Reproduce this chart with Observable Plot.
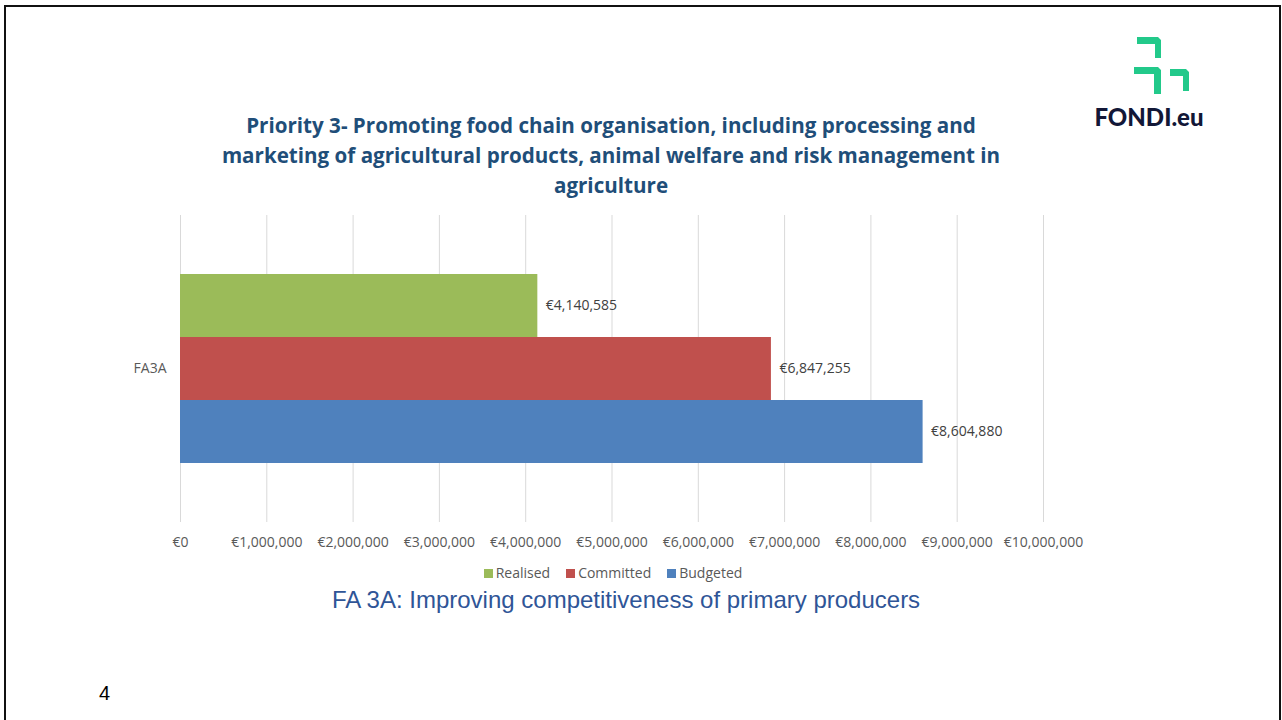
<!DOCTYPE html>
<html>
<head>
<meta charset="utf-8">
<script src="https://cdn.jsdelivr.net/npm/d3@7"></script>
<script src="https://cdn.jsdelivr.net/npm/@observablehq/plot@0.6"></script>
<style>
  html, body { margin: 0; padding: 0; background: #fff; overflow: hidden; }
  #page { position: relative; width: 1282px; height: 720px; }
  #frame { position: absolute; left: 4px; top: 5px; width: 1277px; height: 760px; border: 2px solid #111; box-sizing: border-box; }
  #title { position: absolute; left: 161px; width: 900px; top: 110px; text-align: center; font-family: "Open Sans", sans-serif; font-weight: bold; font-size: 20.6px; line-height: 30px; color: #1F4E79; }
  #chart { position: absolute; left: 0; top: 205px; }
  #legend { position: absolute; left: 0; width: 1226px; top: 563px; text-align: center; font-family: "Open Sans", sans-serif; font-size: 14px; color: #595959; }
  #legend span.item { margin: 0 8px; }
  #legend span.sw { display: inline-block; width: 9px; height: 9px; margin-right: 3px; vertical-align: 0px; }
  #subtitle { position: absolute; left: 0; width: 1252px; top: 586px; text-align: center; font-family: "Liberation Sans", Arial, sans-serif; font-size: 24px; color: #2F5597; }
  #pagenum { position: absolute; left: 99px; top: 682px; font-family: "Liberation Sans", Arial, sans-serif; font-size: 20px; color: #000; }
  #logo { position: absolute; left: 1090px; top: 36px; }
</style>
</head>
<body>
<div id="page">
  <div id="frame"></div>
  <svg id="logo" width="125" height="95" viewBox="0 0 125 95">
    <g fill="#22C98A">
      <polygon points="47,1 68,1 71,4 71,22 65,22 65,8 47,8"/>
      <polygon points="44,31 68,31 71,34 71,58 64,58 64,38 44,38"/>
      <polygon points="80,33 96,33 99,36 99,55 93,55 93,40 80,40"/>
    </g>
    <text x="59" y="90" text-anchor="middle" font-family="Lato, 'Open Sans', sans-serif" font-weight="900" font-size="24" fill="#121737">FONDI.eu</text>
  </svg>
  <div id="title">Priority 3- Promoting food chain organisation, including processing and<br>marketing of agricultural products, animal welfare and risk management in<br>agriculture</div>
  <div id="chart"></div>
  <div id="legend"></div>
  <div id="subtitle">FA 3A: Improving competitiveness of primary producers</div>
  <div id="pagenum">4</div>
</div>
<script>
const categories = ["FA3A"];
const seriesNames = ["Realised", "Committed", "Budgeted"];
const seriesColors = ["#9BBB59", "#C0504D", "#4F81BD"];
const realised = [4140585];
const committed = [6847255];
const budgeted = [8604880];
const xTicks = [0, 1e6, 2e6, 3e6, 4e6, 5e6, 6e6, 7e6, 8e6, 9e6, 10e6];

const seriesValues = [realised, committed, budgeted];
const data = [];
categories.forEach((c, i) => {
  seriesNames.forEach((s, j) => data.push({category: c, series: s, value: seriesValues[j][i]}));
});

const euro = v => "€" + d3.format(",")(v);

const chart = Plot.plot({
  width: 1282,
  height: 350,
  marginLeft: 180,
  marginRight: 239,
  marginTop: 10,
  marginBottom: 33,
  style: {fontFamily: "'Open Sans', sans-serif", fontSize: "14px", color: "#595959", background: "transparent"},
  x: {domain: [0, 10e6], ticks: xTicks, tickFormat: euro, label: null},
  fy: {domain: categories, padding: 0, label: null},
  y: {domain: seriesNames, paddingInner: 0, paddingOuter: 0.91, axis: null},
  color: {domain: seriesNames, range: seriesColors},
  marks: [
    Plot.gridX(xTicks, {stroke: "#d9d9d9", strokeOpacity: 1, strokeWidth: 1}),
    Plot.axisX(xTicks, {tickSize: 0, tickPadding: 15, tickFormat: euro, fill: "#595959", fontSize: 14}),
    Plot.axisFy({anchor: "left", tickSize: 0, tickPadding: 14, fill: "#595959", fontSize: 14, label: null}),
    Plot.barX(data, {x: "value", y: "series", fy: "category", fill: "series"}),
    Plot.text(data, {x: "value", y: "series", fy: "category", text: d => euro(d.value), textAnchor: "start", dx: 8, fill: "#404040", fontSize: 14})
  ]
});
document.getElementById("chart").appendChild(chart);

const legend = document.getElementById("legend");
seriesNames.forEach((s, i) => {
  const item = document.createElement("span");
  item.className = "item";
  const sw = document.createElement("span");
  sw.className = "sw";
  sw.style.background = seriesColors[i];
  item.appendChild(sw);
  item.appendChild(document.createTextNode(s));
  legend.appendChild(item);
});
</script>
</body>
</html>
